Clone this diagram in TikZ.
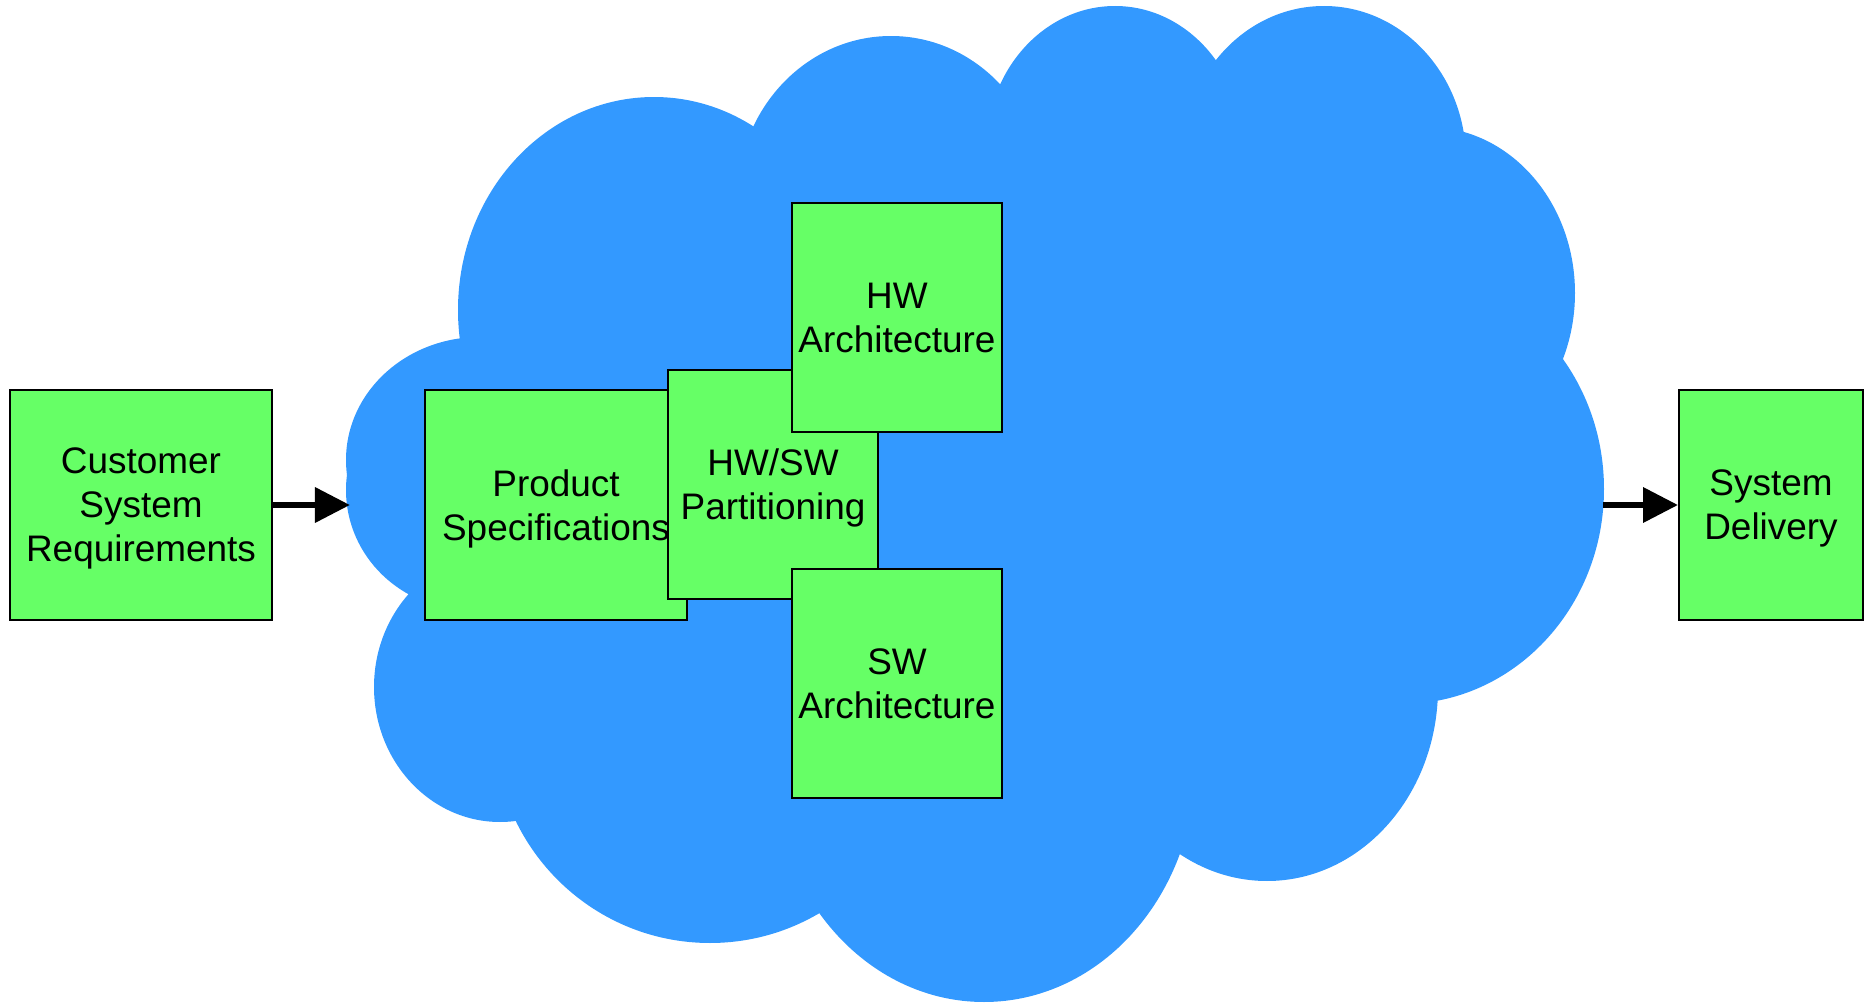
\documentclass[tikz,border=0pt]{standalone}
\usepackage{fontspec}
\setmainfont{Liberation Sans}
\usetikzlibrary{arrows.meta}
\definecolor{cloudblue}{HTML}{3399FF}
\definecolor{boxgreen}{HTML}{66FF66}
\tikzset{
  box/.style={draw,fill=boxgreen,line width=0.5pt,inner sep=0pt,align=center,
    text depth=0pt,font=\fontsize{10.5}{12.5}\selectfont},
  flow/.style={line width=1.9pt,-{Triangle[length=0.35cm,width=0.34cm]}}
}
\begin{document}
\begin{tikzpicture}[x=0.01cm,y=-0.01cm]
 \useasboundingbox (0,0) rectangle (1868,1003);
 \begin{scope}
  \fill[cloudblue] (654,310) -- (891,200) -- (1115,150) -- (1324,160)
       -- (1428,293) -- (1402,489) -- (1267,688) -- (984,762)
       -- (710,726) -- (500,687) -- (470,490) -- (480,460) -- cycle;
  \foreach \cx/\cy/\rx/\ry in {654/310/196/213, 891/200/154/164, 1115/150/129/144,
      1324/160/142/154, 1428/293/147/166, 1402/489/202/215, 1267/688/171/193,
      984/762/212/240, 710/726/216/217, 500/687/126/135, 470/490/124/120,
      480/460/134/123}
    \fill[cloudblue] (\cx,\cy) ellipse [x radius=\rx*0.01cm, y radius=\ry*0.01cm];
 \end{scope}
 \node[box,minimum width=2.62cm,minimum height=2.30cm] (cust) at (141,505)
      {Customer\\System\\Requirements};
 \node[box,minimum width=2.62cm,minimum height=2.30cm] (spec) at (556,505)
      {Product\\Specifications};
 \node[box,minimum width=2.10cm,minimum height=2.29cm] (part) at (773,484.5)
      {HW/SW\\Partitioning};
 \node[box,minimum width=2.10cm,minimum height=2.29cm] (hwarch) at (897,317.5)
      {HW\\Architecture};
 \node[box,minimum width=2.10cm,minimum height=2.29cm] (swarch) at (897,683.5)
      {SW\\Architecture};
 \node[box,minimum width=1.84cm,minimum height=2.30cm] (deliv) at (1771,505)
      {System\\Delivery};
 \coordinate (cloudin) at (350,505);
 \coordinate (cloudout) at (1603,505);
 \draw[flow] (cust) -- (cloudin);
 \draw[flow] (cloudout) -- (deliv);
\end{tikzpicture}
\end{document}
